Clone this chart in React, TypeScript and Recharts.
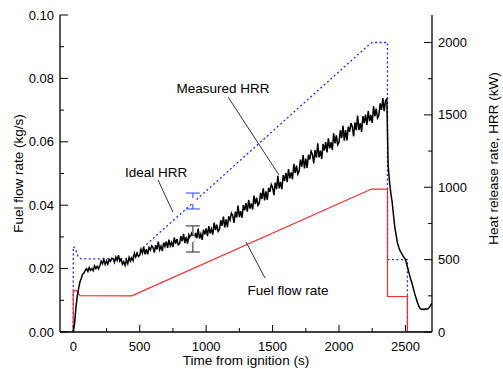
import { LineChart, Line, XAxis, YAxis, ErrorBar, ReferenceLine, ReferenceDot } from "recharts";

// time axis (s)
const timeTicks = [0, 250, 500, 750, 1000, 1250, 1500, 1750, 2000, 2250, 2500];
const fuelTicks = [0, 0.01, 0.02, 0.03, 0.04, 0.05, 0.06, 0.07, 0.08, 0.09, 0.1];
const hrrTicks = [0, 250, 500, 750, 1000, 1250, 1500, 1750, 2000];

// fuel flow rate (kg/s), left axis
const fuelTime = [-100, 0, 0, 25, 50, 440, 2245, 2365, 2365, 2515, 2515, 2700];
const fuelRate = [0, 0, 0.0132, 0.013, 0.0115, 0.0114, 0.0451, 0.0451, 0.0112, 0.0112, 0, 0];

// ideal HRR (kW), right axis
const idealTime = [0, 0, 15, 35, 60, 430, 2220, 2250, 2365, 2365, 2515, 2515];
const idealHrr = [0, 590, 575, 525, 505, 505, 1980, 2000, 2000, 500, 500, 0];

// measured HRR (kW), sampled every 10 s from t = 0
const measuredStep = 10;
const measuredHrr = [
  0, 60, 170, 250, 300, 345, 370, 400, 408, 425,
  437, 418, 446, 426, 438, 424, 457, 438, 454, 436,
  460, 489, 471, 500, 467, 491, 468, 501, 489, 510,
  507, 482, 517, 495, 531, 489, 502, 468, 486, 460,
  498, 472, 515, 490, 512, 493, 545, 519, 545, 522,
  530, 572, 545, 587, 536, 572, 536, 584, 566, 596,
  585, 549, 600, 570, 624, 568, 593, 560, 618, 591,
  625, 582, 638, 595, 619, 587, 653, 610, 642, 602,
  611, 662, 627, 678, 614, 657, 611, 670, 646, 682,
  667, 622, 685, 648, 715, 646, 677, 636, 707, 674,
  715, 663, 732, 681, 712, 673, 755, 703, 742, 695,
  707, 772, 733, 798, 722, 778, 725, 799, 773, 821,
  804, 754, 832, 791, 874, 794, 835, 789, 876, 840,
  890, 831, 912, 853, 889, 846, 942, 883, 929, 875,
  890, 962, 919, 992, 909, 971, 913, 996, 968, 1020,
  1001, 946, 1033, 987, 1079, 992, 1037, 986, 1084, 1044,
  1099, 1035, 1126, 1061, 1102, 1055, 1162, 1097, 1150, 1091,
  1112, 1191, 1143, 1223, 1130, 1198, 1133, 1224, 1192, 1249,
  1227, 1164, 1257, 1205, 1303, 1206, 1253, 1195, 1299, 1253,
  1312, 1241, 1338, 1268, 1311, 1258, 1373, 1303, 1358, 1293,
  1310, 1394, 1340, 1424, 1322, 1395, 1323, 1419, 1383, 1443,
  1418, 1352, 1448, 1394, 1496, 1395, 1443, 1383, 1491, 1443,
  1502, 1431, 1527, 1456, 1499, 1445, 1560, 1489, 1543, 1478,
  1497, 1579, 1534, 1616, 1526, 1597, 1610, 1150, 1040, 960,
  900, 810, 725, 670, 615, 585, 560, 545, 528, 515,
  500, 468, 432, 398, 362, 335, 300, 265, 235, 205,
  180, 163, 156, 158, 155, 160, 157, 162, 170, 185,
  200,
];

// error bars at t = 900 s
const idealErr = [{ t: 900, v: 905, e: 55 }];
const measuredErr = [{ t: 900, v: 643, e: 90 }];

const fuelData = fuelTime.map((t, i) => ({ t, v: fuelRate[i] }));
const idealData = idealTime.map((t, i) => ({ t, v: idealHrr[i] }));
const measuredData = measuredHrr.map((v, i) => ({ t: i * measuredStep, v }));

const FONT = "'Liberation Sans', Arial, sans-serif";

function BottomTick({ x, y, payload }: any) {
  const major = payload.value % 500 === 0;
  return (
    <g>
      <line x1={x} x2={x} y1={y} y2={y - (major ? 7 : 4)} stroke="#000" />
      {major && (
        <text x={x} y={y + 18.5} textAnchor="middle" fontSize={13} fontFamily={FONT} fill="#000">
          {payload.value}
        </text>
      )}
    </g>
  );
}

function TopTick({ x, y }: any) {
  return <line x1={x} x2={x} y1={y} y2={y + 7} stroke="#000" />;
}

function LeftTick({ x, y, payload }: any) {
  const major = Math.round(payload.value * 100) % 2 === 0;
  return (
    <g>
      <line x1={x} x2={x + (major ? 8 : 4)} y1={y} y2={y} stroke="#000" />
      {major && (
        <text x={x - 6} y={y} dy="0.35em" textAnchor="end" fontSize={13} fontFamily={FONT} fill="#000">
          {payload.value.toFixed(2)}
        </text>
      )}
    </g>
  );
}

function RightTick({ x, y, payload }: any) {
  const major = payload.value % 500 === 0;
  return (
    <g>
      <line x1={x} x2={x - (major ? 8 : 4)} y1={y} y2={y} stroke="#000" />
      {major && (
        <text x={x + 6} y={y} dy="0.35em" textAnchor="start" fontSize={13} fontFamily={FONT} fill="#000">
          {payload.value}
        </text>
      )}
    </g>
  );
}

const titleStyle = { fontSize: 13.5, fontFamily: FONT, fill: "#000" };

const xTitle = (p: any) => {
  const vb = p.viewBox;
  return (
    <text x={vb.x + vb.width / 2} y={vb.y + 33} textAnchor="middle" style={titleStyle}>
      Time from ignition (s)
    </text>
  );
};

const leftTitle = (p: any) => {
  const vb = p.viewBox;
  const cx = vb.x + 18;
  const cy = vb.y + vb.height / 2;
  return (
    <text x={cx} y={cy} dy="0.35em" textAnchor="middle" transform={`rotate(-90, ${cx}, ${cy})`} style={titleStyle}>
      Fuel flow rate (kg/s)
    </text>
  );
};

const rightTitle = (p: any) => {
  const vb = p.viewBox;
  const cx = vb.x + 61;
  const cy = vb.y + vb.height / 2 - 15;
  return (
    <text x={cx} y={cy} dy="0.35em" textAnchor="middle" transform={`rotate(-90, ${cx}, ${cy})`} style={titleStyle}>
      Heat release rate, HRR (kW)
    </text>
  );
};

const noteLabel = (value: string) => ({ value, position: "center" as const, fill: "#000", fontSize: 13.5, fontFamily: FONT });

export default function App() {
  return (
    <div style={{ position: "absolute", left: 0, top: 0, width: 503, height: 369, background: "#fff" }}>
      <LineChart width={503} height={369} margin={{ top: 15, right: 0, bottom: 0, left: 0 }} style={{ fontFamily: FONT }}>
        <XAxis
          dataKey="t"
          type="number"
          domain={[-100, 2700]}
          ticks={timeTicks}
          interval={0}
          height={37}
          tickSize={0}
          tickMargin={0}
          tick={<BottomTick />}
          axisLine={{ stroke: "#000", strokeWidth: 1.3 }}
          allowDataOverflow
          label={{ content: xTitle }}
        />
        <XAxis
          xAxisId="top"
          orientation="top"
          type="number"
          domain={[-100, 2700]}
          ticks={timeTicks}
          interval={0}
          height={0}
          tickSize={0}
          tickMargin={0}
          tick={<TopTick />}
          axisLine={{ stroke: "#000", strokeWidth: 1.3 }}
          allowDataOverflow
        />
        <YAxis
          yAxisId="fuel"
          type="number"
          domain={[0, 0.1]}
          ticks={fuelTicks}
          interval={0}
          width={60}
          tickSize={0}
          tickMargin={0}
          tick={<LeftTick />}
          axisLine={{ stroke: "#000", strokeWidth: 1.3 }}
          allowDataOverflow
          label={{ content: leftTitle }}
        />
        <YAxis
          yAxisId="hrr"
          orientation="right"
          type="number"
          domain={[0, 2190]}
          ticks={hrrTicks}
          interval={0}
          width={71}
          tickSize={0}
          tickMargin={0}
          tick={<RightTick />}
          axisLine={{ stroke: "#000", strokeWidth: 1.3 }}
          allowDataOverflow
          label={{ content: rightTitle }}
        />

        <Line
          yAxisId="hrr"
          data={idealData}
          dataKey="v"
          type="linear"
          stroke="#1f2bff"
          strokeWidth={1.3}
          strokeDasharray="2 2.5"
          dot={false}
          isAnimationActive={false}
        />
        <Line
          yAxisId="fuel"
          data={fuelData}
          dataKey="v"
          type="linear"
          stroke="#ff2a2a"
          strokeWidth={1.2}
          dot={false}
          isAnimationActive={false}
        />
        <Line
          yAxisId="hrr"
          data={measuredData}
          dataKey="v"
          type="linear"
          stroke="#000"
          strokeWidth={1.5}
          dot={false}
          isAnimationActive={false}
        />
        <Line yAxisId="hrr" data={idealErr} dataKey="v" stroke="none" dot={false} isAnimationActive={false}>
          <ErrorBar dataKey="e" direction="y" width={7} stroke="#4a5cff" strokeWidth={1.2} isAnimationActive={false} />
        </Line>
        <Line yAxisId="hrr" data={measuredErr} dataKey="v" stroke="none" dot={false} isAnimationActive={false}>
          <ErrorBar dataKey="e" direction="y" width={7} stroke="#444" strokeWidth={1.2} isAnimationActive={false} />
        </Line>

        {/* annotations */}
        <ReferenceLine yAxisId="hrr" segment={[{ x: 1165, y: 1623 }, { x: 1548, y: 1085 }]} stroke="#333" strokeWidth={1} />
        <ReferenceLine yAxisId="hrr" segment={[{ x: 638, y: 1050 }, { x: 750, y: 829 }]} stroke="#333" strokeWidth={1} />
        <ReferenceLine yAxisId="hrr" segment={[{ x: 1300, y: 622 }, { x: 1443, y: 373 }]} stroke="#333" strokeWidth={1} />
        <ReferenceDot yAxisId="hrr" x={1127} y={1686} r={0} fill="none" stroke="none" label={noteLabel("Measured HRR")} />
        <ReferenceDot yAxisId="hrr" x={623} y={1105} r={0} fill="none" stroke="none" label={noteLabel("Ideal HRR")} />
        <ReferenceDot yAxisId="hrr" x={1616} y={290} r={0} fill="none" stroke="none" label={noteLabel("Fuel flow rate")} />
      </LineChart>
    </div>
  );
}
